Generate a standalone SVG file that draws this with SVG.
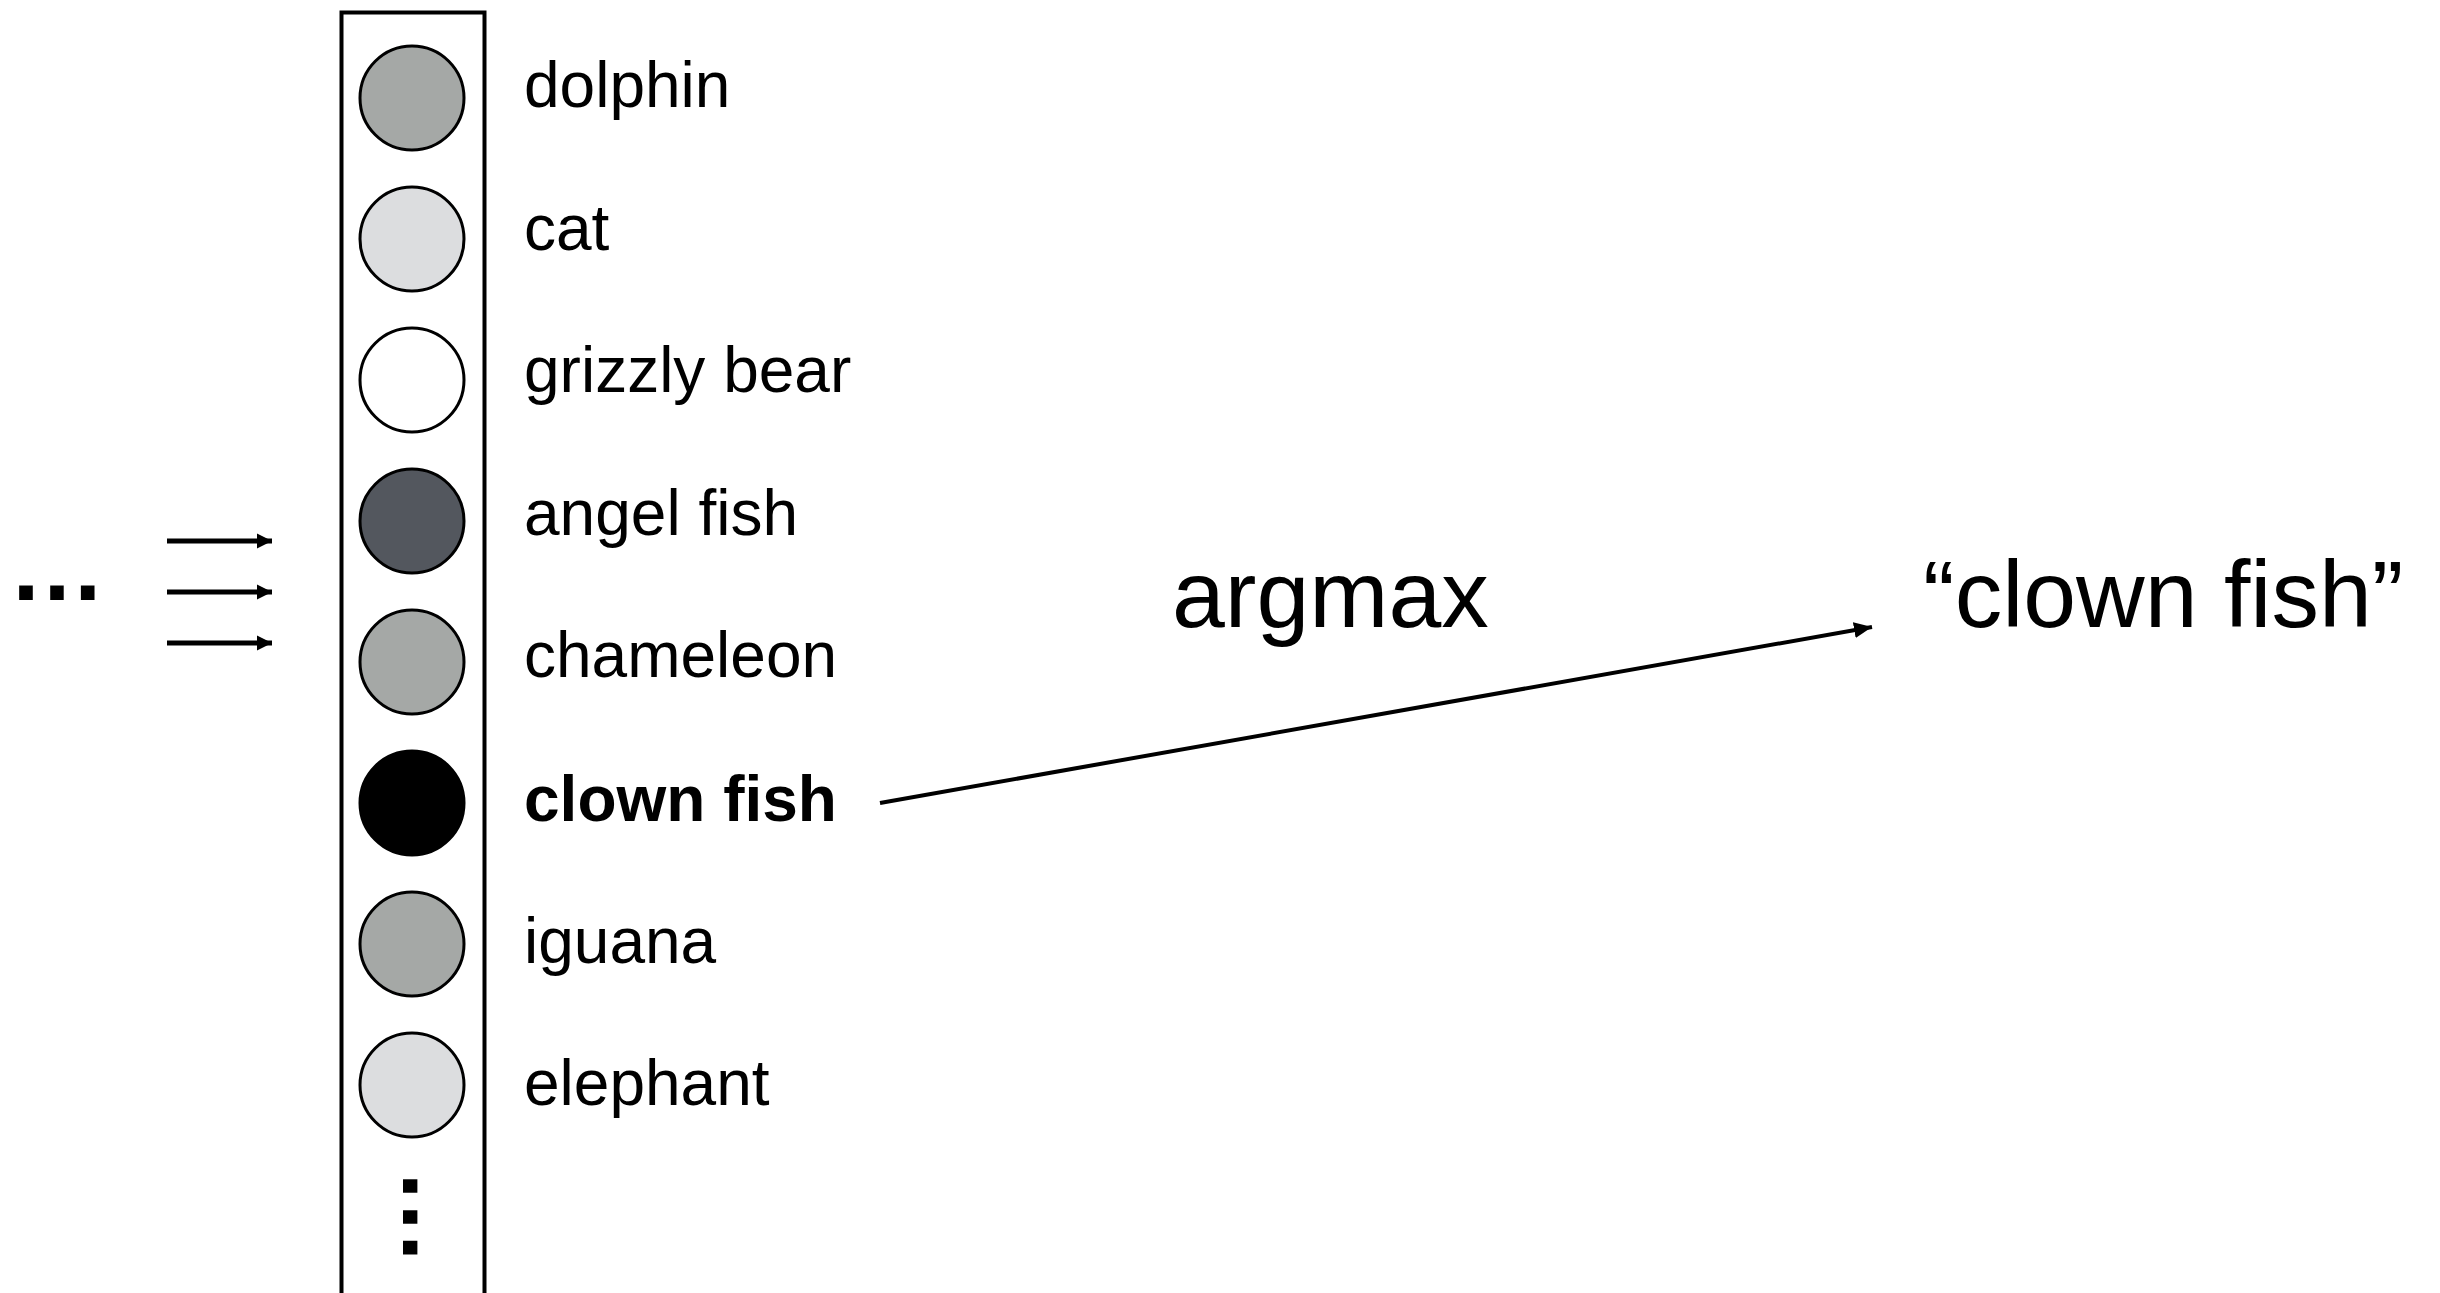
<svg xmlns="http://www.w3.org/2000/svg" width="2440" height="1293" viewBox="0 0 2440 1293">
  <style>
    .label { font-family: "Liberation Sans", Arial, sans-serif; font-size: 64px; fill: #000; }
    .bold { font-weight: bold; }
    .big { font-family: "Liberation Sans", Arial, sans-serif; font-size: 95px; fill: #000; }
    .dots { font-family: "Liberation Sans", Arial, sans-serif; font-weight: bold; font-size: 97px; fill: #000; }
    .unit { stroke: #000; stroke-width: 3; }
    .mid { fill: #a5a8a6; }
    .light { fill: #dcdddf; }
    .white { fill: #ffffff; }
    .dark { fill: #53575e; }
    .black { fill: #000000; }
    .conn { stroke: #000; fill: none; }
  </style>
  <defs>
    <marker id="headSmall" markerUnits="userSpaceOnUse" markerWidth="16" markerHeight="16" refX="15" refY="8" orient="auto">
      <path d="M0,0.5 L15,8 L0,15.5 Z" fill="#000"/>
    </marker>
    <marker id="headMain" markerUnits="userSpaceOnUse" markerWidth="20" markerHeight="18" refX="18" refY="9" orient="auto">
      <path d="M0,1 L18,9 L0,17 Z" fill="#000"/>
    </marker>
  </defs>

  <rect width="2440" height="1293" fill="#fff"/>

  <!-- output layer frame -->
  <g id="layer">
    <path d="M341.5,1300 L341.5,12.5 L484.5,12.5 L484.5,1300" fill="none" stroke="#000" stroke-width="4"/>
  </g>

  <!-- output units with class labels -->
  <g id="unit-dolphin">
    <circle class="unit mid" cx="412" cy="98" r="52"/>
    <text class="label" x="524" y="107">dolphin</text>
  </g>
  <g id="unit-cat">
    <circle class="unit light" cx="412" cy="239" r="52"/>
    <text class="label" x="524" y="250">cat</text>
  </g>
  <g id="unit-grizzly-bear">
    <circle class="unit white" cx="412" cy="380" r="52"/>
    <text class="label" x="524" y="392">grizzly bear</text>
  </g>
  <g id="unit-angel-fish">
    <circle class="unit dark" cx="412" cy="521" r="52"/>
    <text class="label" x="524" y="535">angel fish</text>
  </g>
  <g id="unit-chameleon">
    <circle class="unit mid" cx="412" cy="662" r="52"/>
    <text class="label" x="524" y="677">chameleon</text>
  </g>
  <g id="unit-clown-fish">
    <circle class="unit black" cx="412" cy="803" r="52"/>
    <text class="label bold" x="524" y="821">clown fish</text>
  </g>
  <g id="unit-iguana">
    <circle class="unit mid" cx="412" cy="944" r="52"/>
    <text class="label" x="524" y="963">iguana</text>
  </g>
  <g id="unit-elephant">
    <circle class="unit light" cx="412" cy="1085" r="52"/>
    <text class="label" x="524" y="1105">elephant</text>
  </g>
  <g id="more-units">
    <text class="dots" transform="translate(403,1168.5) rotate(90)" x="0" y="0">…</text>
  </g>

  <!-- preceding layers -->
  <g id="previous">
    <text class="dots" x="8.5" y="600">…</text>
  </g>

  <!-- result -->
  <g id="argmax-label">
    <text class="big" x="1172" y="627">argmax</text>
  </g>
  <g id="result">
    <text class="big" x="1923" y="627">“clown fish”</text>
  </g>

  <!-- connectors -->
  <g id="connectors">
    <line class="conn" x1="167" y1="541" x2="272" y2="541" stroke-width="5" marker-end="url(#headSmall)"/>
    <line class="conn" x1="167" y1="592" x2="272" y2="592" stroke-width="5" marker-end="url(#headSmall)"/>
    <line class="conn" x1="167" y1="643" x2="272" y2="643" stroke-width="5" marker-end="url(#headSmall)"/>
    <line class="conn" x1="880" y1="803" x2="1872" y2="627" stroke-width="4" marker-end="url(#headMain)"/>
  </g>
</svg>
